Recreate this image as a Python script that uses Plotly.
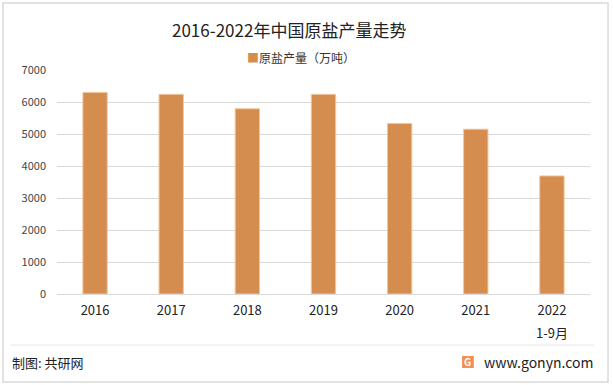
import plotly.graph_objects as go

categories = ["2016", "2017", "2018", "2019", "2020", "2021", "2022"]
category_notes = ["", "", "", "", "", "", "1-9月"]
values = [6300, 6240, 5790, 6240, 5330, 5150, 3690]
y_ticks = [0, 1000, 2000, 3000, 4000, 5000, 6000, 7000]
series_name = "原盐产量（万吨）"
title_text = "2016-2022年中国原盐产量走势"

FONT = "Noto Sans CJK SC, Microsoft YaHei, sans-serif"
BAR = "#D58D4F"

fig = go.Figure()
fig.add_trace(go.Bar(
    x=categories, y=values, name=series_name,
    marker=dict(color=BAR, line=dict(color="#F2C79E", width=1)),
))

annotations = [
    dict(text=title_text, xref="paper", yref="paper", x=0.435, y=1.179, xanchor="center",
         yanchor="middle", showarrow=False, font=dict(size=17, color="#222222")),
    dict(text="<span style='color:%s'>■</span>%s" % (BAR, series_name), xref="paper", yref="paper",
         x=0.458, y=1.054, xanchor="center", yanchor="middle", showarrow=False,
         font=dict(size=12, color="#333333")),
    dict(text="制图: 共研网", xref="paper", yref="paper", x=-0.088, y=-0.304, xanchor="left",
         yanchor="middle", showarrow=False, font=dict(size=13, color="#222222")),
    dict(text="www.gonyn.com", xref="paper", yref="paper", x=1.009, y=-0.304, xanchor="right",
         yanchor="middle", showarrow=False, font=dict(size=14, color="#222222")),
    dict(text="<b>G</b>", xref="paper", yref="paper", x=0.771, y=-0.303, xanchor="center",
         yanchor="middle", showarrow=False, font=dict(size=10, color="white")),
]
for i, note in enumerate(category_notes):
    if note:
        annotations.append(dict(text=note, xref="x", yref="paper", x=i, y=-0.174,
                                xanchor="center", yanchor="middle", showarrow=False,
                                font=dict(size=13, color="#222222")))

fig.update_layout(
    width=613, height=385,
    paper_bgcolor="white", plot_bgcolor="white",
    margin=dict(l=57, r=23, t=70, b=91, autoexpand=False),
    bargap=0.68,
    font=dict(family=FONT, color="#333333"),
    showlegend=False,
    xaxis=dict(type="category", showline=True, linecolor="#D9D9D9", ticks="", automargin=False,
               tickfont=dict(size=13, color="#222222"), showgrid=False,
               ticklabelstandoff=4),
    yaxis=dict(range=[0, 7000], tickvals=y_ticks, showgrid=True, gridcolor="#D9D9D9",
               zeroline=False, ticks="", automargin=False,
               tickfont=dict(size=11, color="#444444"), ticklabelstandoff=10),
    shapes=[
        dict(type="rect", xref="paper", yref="paper", x0=-0.1013, x1=1.0338, y0=-0.393, y1=1.299,
             line=dict(color="#D9D9D9", width=1.5), fillcolor="rgba(0,0,0,0)", layer="below"),
        dict(type="line", xref="paper", yref="paper", x0=-0.088, x1=1.0075, y0=-0.228, y1=-0.228,
             line=dict(color="#E6E6E6", width=1)),
        dict(type="rect", xref="paper", yref="paper", x0=0.760, x1=0.782, y0=-0.330, y1=-0.277,
             line=dict(width=0), fillcolor="#F28C50"),
    ],
    annotations=annotations,
)

fig.write_html("out.html", config={"displayModeBar": False},
               post_script="document.body.style.margin='0';document.body.style.overflow='hidden';")
